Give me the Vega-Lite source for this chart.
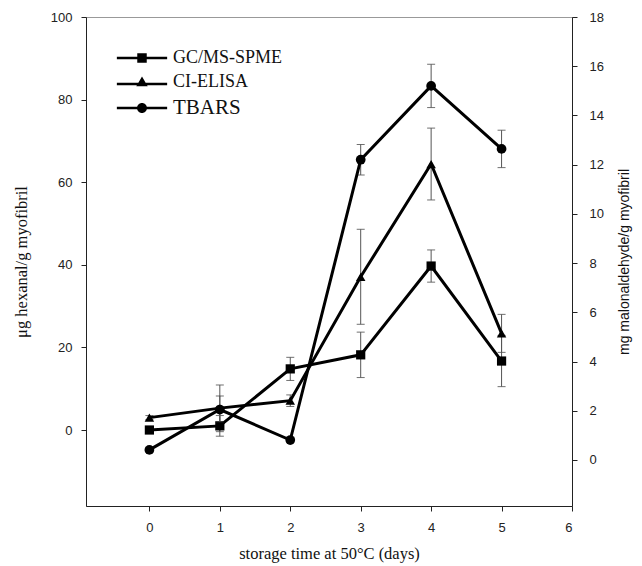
{
  "$schema": "https://vega.github.io/schema/vega-lite/v6.json",
  "width": 486,
  "height": 489,
  "autosize": "none",
  "padding": {"left": 86, "top": 17, "right": 70, "bottom": 60},
  "background": "white",
  "config": {
    "view": {"stroke": "#999", "strokeWidth": 1},
    "axis": {
      "grid": false,
      "domainColor": "#222",
      "tickColor": "#222",
      "tickSize": 5,
      "labelFont": "Liberation Sans",
      "labelFontSize": 13,
      "labelColor": "#222",
      "titleFontWeight": "normal",
      "titleColor": "#111"
    }
  },
  "data": {
    "values": [
      {"series": "GC/MS-SPME", "day": 0, "value": 0.0, "lo": -0.5, "hi": 0.5},
      {"series": "GC/MS-SPME", "day": 1, "value": 1.0, "lo": -1.5, "hi": 3.5},
      {"series": "GC/MS-SPME", "day": 2, "value": 14.8, "lo": 12.0, "hi": 17.6},
      {"series": "GC/MS-SPME", "day": 3, "value": 18.2, "lo": 12.7, "hi": 23.7},
      {"series": "GC/MS-SPME", "day": 4, "value": 39.7, "lo": 35.8, "hi": 43.6},
      {"series": "GC/MS-SPME", "day": 5, "value": 16.7, "lo": 10.5, "hi": 22.9},
      {"series": "CI-ELISA", "day": 0, "value": 3.0, "lo": 2.5, "hi": 3.5},
      {"series": "CI-ELISA", "day": 1, "value": 5.3, "lo": -0.4, "hi": 10.9},
      {"series": "CI-ELISA", "day": 2, "value": 7.1, "lo": 5.7, "hi": 8.5},
      {"series": "CI-ELISA", "day": 3, "value": 37.1, "lo": 25.6, "hi": 48.6},
      {"series": "CI-ELISA", "day": 4, "value": 64.4, "lo": 55.7, "hi": 73.1},
      {"series": "CI-ELISA", "day": 5, "value": 23.4, "lo": 18.8, "hi": 28.0},
      {"series": "TBARS", "day": 0, "value": 0.41, "lo": 0.31, "hi": 0.51},
      {"series": "TBARS", "day": 1, "value": 2.05, "lo": 1.55, "hi": 2.6},
      {"series": "TBARS", "day": 2, "value": 0.81, "lo": 0.71, "hi": 0.91},
      {"series": "TBARS", "day": 3, "value": 12.2, "lo": 11.58, "hi": 12.82},
      {"series": "TBARS", "day": 4, "value": 15.2, "lo": 14.32, "hi": 16.08},
      {"series": "TBARS", "day": 5, "value": 12.64, "lo": 11.88, "hi": 13.4}
    ]
  },
  "encoding": {
    "x": {
      "field": "day",
      "type": "quantitative",
      "scale": {"domain": [-0.9, 6], "nice": false, "zero": false},
      "axis": {
        "values": [0, 1, 2, 3, 4, 5, 6],
        "format": "d",
        "labelPadding": 10,
        "title": "storage time at 50°C (days)",
        "titleFont": "Liberation Serif",
        "titleFontSize": 16.5,
        "titlePadding": 11
      }
    }
  },
  "layer": [
    {
      "layer": [
        {
          "transform": [{"filter": "datum.series != 'TBARS'"}],
          "mark": {"type": "errorbar", "ticks": {"size": 8, "thickness": 1, "color": "#333"}, "rule": {"strokeWidth": 1, "color": "#555"}},
          "encoding": {
            "y": {"field": "lo", "type": "quantitative", "title": "μg hexanal/g myofibril", "scale": {"domain": [-18.4, 100], "nice": false, "zero": false}, "axis": {"orient": "left", "values": [0, 20, 40, 60, 80, 100], "labelPadding": 9, "titleFont": "Liberation Serif", "titleFontSize": 16.5, "titlePadding": 21}},
            "y2": {"field": "hi"},
            "detail": {"field": "series"}
          }
        },
        {
          "transform": [{"filter": "datum.series != 'TBARS'"}],
          "mark": {"type": "line", "color": "black", "strokeWidth": 3},
          "encoding": {
            "y": {"field": "value", "type": "quantitative", "title": "μg hexanal/g myofibril", "scale": {"domain": [-18.4, 100], "nice": false, "zero": false}, "axis": {"orient": "left", "values": [0, 20, 40, 60, 80, 100], "labelPadding": 9, "titleFont": "Liberation Serif", "titleFontSize": 16.5, "titlePadding": 21}},
            "detail": {"field": "series"}
          }
        },
        {
          "transform": [{"filter": "datum.series == 'GC/MS-SPME'"}],
          "mark": {"type": "point", "shape": "square", "filled": true, "color": "black", "opacity": 1, "size": 85},
          "encoding": {
            "y": {"field": "value", "type": "quantitative", "title": "μg hexanal/g myofibril", "scale": {"domain": [-18.4, 100], "nice": false, "zero": false}, "axis": {"orient": "left", "values": [0, 20, 40, 60, 80, 100], "labelPadding": 9, "titleFont": "Liberation Serif", "titleFontSize": 16.5, "titlePadding": 21}}
          }
        },
        {
          "transform": [{"filter": "datum.series == 'CI-ELISA'"}],
          "mark": {"type": "point", "shape": "triangle-up", "filled": true, "color": "black", "opacity": 1, "size": 90},
          "encoding": {
            "y": {"field": "value", "type": "quantitative", "title": "μg hexanal/g myofibril", "scale": {"domain": [-18.4, 100], "nice": false, "zero": false}, "axis": {"orient": "left", "values": [0, 20, 40, 60, 80, 100], "labelPadding": 9, "titleFont": "Liberation Serif", "titleFontSize": 16.5, "titlePadding": 21}}
          }
        },
        {
          "mark": {"type": "point", "filled": true, "color": "black", "opacity": 0, "size": 90},
          "encoding": {
            "y": {"field": "value", "type": "quantitative", "title": "μg hexanal/g myofibril", "scale": {"domain": [-18.4, 100], "nice": false, "zero": false}, "axis": {"orient": "left", "values": [0, 20, 40, 60, 80, 100], "labelPadding": 9, "titleFont": "Liberation Serif", "titleFontSize": 16.5, "titlePadding": 21}},
            "shape": {
              "field": "series",
              "type": "nominal",
              "scale": {
                "domain": ["GC/MS-SPME", "CI-ELISA", "TBARS"],
                "range": [
                  "M-5.3,-0.26H5.3V0.26H-5.3ZM-1,-1H1V1H-1Z",
                  "M-5.3,0.14H5.3V0.66H-5.3ZM0,-1.15L1.2,0.9H-1.2Z",
                  "M-5.3,-0.26H5.3V0.26H-5.3ZM1.05,0A1.05,1.05,0,1,1,-1.05,0A1.05,1.05,0,1,1,1.05,0Z"
                ]
              },
              "legend": {
                "orient": "none",
                "legendX": 47,
                "legendY": 32,
                "title": null,
                "padding": 0,
                "symbolSize": 90,
                "symbolFillColor": "black",
                "symbolStrokeColor": "black",
                "symbolOpacity": 1,
                "labelOffset": 22,
                "labelFont": "Liberation Serif",
                "labelFontSize": {"expr": "datum.label == 'TBARS' ? 21 : 18"},
                "labelColor": "#111",
                "rowPadding": 6
              }
            }
          }
        }
      ]
    },
    {
      "layer": [
        {
          "transform": [{"filter": "datum.series == 'TBARS'"}],
          "mark": {"type": "errorbar", "ticks": {"size": 8, "thickness": 1, "color": "#333"}, "rule": {"strokeWidth": 1, "color": "#555"}},
          "encoding": {
            "y": {"field": "lo", "type": "quantitative", "title": "mg malonaldehyde/g myofibril", "scale": {"domain": [-1.87, 18], "nice": false, "zero": false}, "axis": {"orient": "right", "values": [0, 2, 4, 6, 8, 10, 12, 14, 16, 18], "labelPadding": 12, "titleFont": "Liberation Sans", "titleFontSize": 14, "titleAngle": 270, "titlePadding": 28}},
            "y2": {"field": "hi"}
          }
        },
        {
          "transform": [{"filter": "datum.series == 'TBARS'"}],
          "mark": {"type": "line", "color": "black", "strokeWidth": 3},
          "encoding": {
            "y": {"field": "value", "type": "quantitative", "title": "mg malonaldehyde/g myofibril", "scale": {"domain": [-1.87, 18], "nice": false, "zero": false}, "axis": {"orient": "right", "values": [0, 2, 4, 6, 8, 10, 12, 14, 16, 18], "labelPadding": 12, "titleFont": "Liberation Sans", "titleFontSize": 14, "titleAngle": 270, "titlePadding": 28}}
          }
        },
        {
          "transform": [{"filter": "datum.series == 'TBARS'"}],
          "mark": {"type": "point", "shape": "circle", "filled": true, "color": "black", "opacity": 1, "size": 95},
          "encoding": {
            "y": {"field": "value", "type": "quantitative", "title": "mg malonaldehyde/g myofibril", "scale": {"domain": [-1.87, 18], "nice": false, "zero": false}, "axis": {"orient": "right", "values": [0, 2, 4, 6, 8, 10, 12, 14, 16, 18], "labelPadding": 12, "titleFont": "Liberation Sans", "titleFontSize": 14, "titleAngle": 270, "titlePadding": 28}}
          }
        }
      ]
    }
  ],
  "resolve": {"scale": {"y": "independent"}}
}
